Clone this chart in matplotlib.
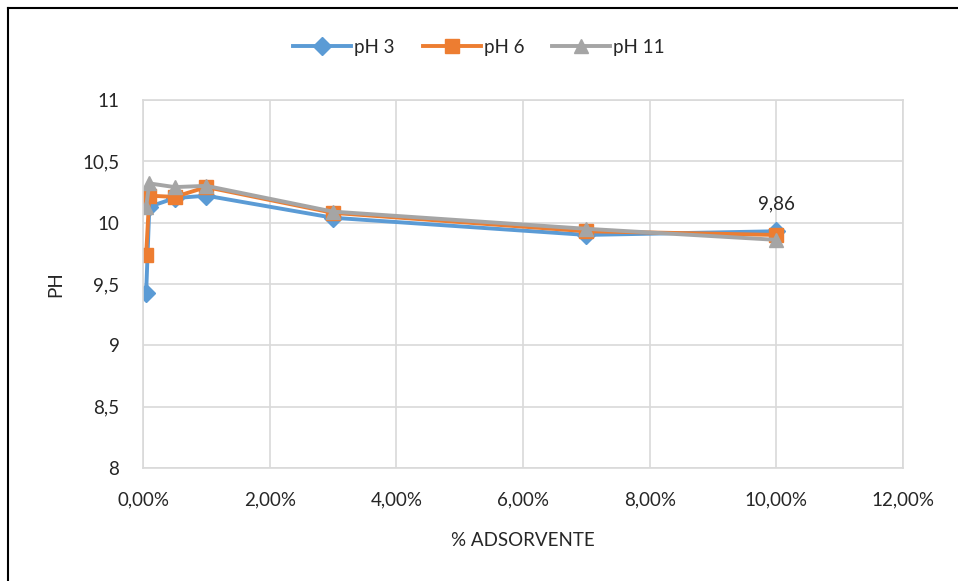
import matplotlib
matplotlib.use("Agg")
import matplotlib.pyplot as plt
from matplotlib.ticker import FuncFormatter
from matplotlib.lines import Line2D

plt.rcParams['font.family'] = ['Lato', 'DejaVu Sans']

# Adsorbent dose (%) and final pH for each initial pH
adsorvente = [0.05, 0.1, 0.5, 1.0, 3.0, 7.0, 10.0]
ph3 = [9.43, 10.13, 10.20, 10.22, 10.04, 9.90, 9.93]
ph6 = [9.74, 10.22, 10.21, 10.29, 10.08, 9.93, 9.90]
ph11 = [10.13, 10.32, 10.29, 10.30, 10.09, 9.95, 9.86]
series_names = ["pH 3", "pH 6", "pH 11"]
x_ticks = [0, 2, 4, 6, 8, 10, 12]
y_ticks = [8, 8.5, 9, 9.5, 10, 10.5, 11]

colors = ["#5B9BD5", "#ED7D31", "#A5A5A5"]
markers = ["D", "s", "^"]
msizes = [9.5, 10.5, 10.5]
txt = "#262626"
fs = 13.5

W, H = 958, 581
fig = plt.figure(figsize=(W / 100, H / 100), dpi=100)
ax = fig.add_axes([143 / W, 1 - 468 / H, (903 - 143) / W, (468 - 100) / H])

for vals, name, c, m, ms in zip([ph3, ph6, ph11], series_names, colors, markers, msizes):
    ax.plot(adsorvente, vals, color=c, marker=m, markersize=ms, linewidth=2.8,
            label=name, solid_joinstyle='round')

ax.annotate(f"{ph11[-1]:.2f}".replace(".", ","), (adsorvente[-1], ph11[-1]), xytext=(0, 20),
            textcoords="offset points", ha="center", va="bottom", fontsize=fs,
            color=txt)

ax.set_xlim(0, 12)
ax.set_ylim(8, 11)
ax.set_xticks(x_ticks)
ax.set_yticks(y_ticks)
ax.xaxis.set_major_formatter(FuncFormatter(lambda v, p: f"{v:.2f}%".replace(".", ",")))
ax.yaxis.set_major_formatter(FuncFormatter(lambda v, p: (f"{v:g}").replace(".", ",")))
ax.tick_params(axis="x", length=0, labelsize=fs, labelcolor=txt, pad=17)
ax.tick_params(axis="y", length=0, labelsize=fs, labelcolor=txt, pad=17)
ax.grid(True, color="#D9D9D9", linewidth=1.2)
ax.set_axisbelow(True)
for s in ax.spines.values():
    s.set_color("#D9D9D9")
    s.set_linewidth(1.2)

ax.set_xlabel("% ADSORVENTE", fontsize=fs, color=txt, labelpad=17)
ax.set_ylabel("PH", fontsize=fs, color=txt, labelpad=13)

handles = [Line2D([], [], color=c, marker=m, markersize=ms, linewidth=2.8)
           for c, m, ms in zip(colors, markers, msizes)]
fig.legend(handles, series_names, loc="center", bbox_to_anchor=(0.5, 1 - 47 / H),
           ncol=3, frameon=False, fontsize=fs, handlelength=3.1, handletextpad=0.15,
           columnspacing=1.5, labelcolor=txt)

# Chart-area border (left and top edges)
fig.add_artist(Line2D([8 / W, 8 / W], [0, 1 - 8 / H], color="black", linewidth=1.5,
                      transform=fig.transFigure))
fig.add_artist(Line2D([8 / W, 1], [1 - 8 / H, 1 - 8 / H], color="black", linewidth=1.5,
                      transform=fig.transFigure))

fig.savefig("out.png", dpi=100)
